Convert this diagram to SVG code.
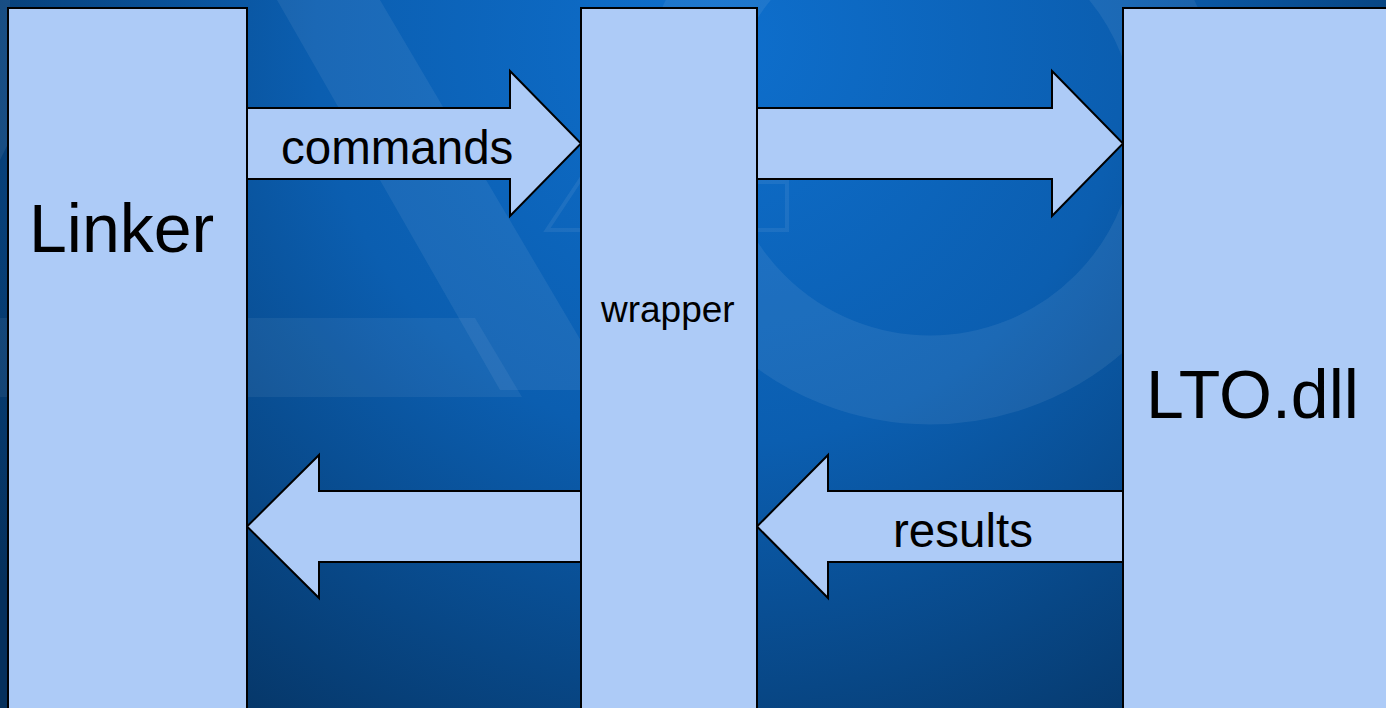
<svg xmlns="http://www.w3.org/2000/svg" width="1386" height="708" viewBox="0 0 1386 708">
  <style>
    .node { fill: #adcbf7; stroke: #000; stroke-width: 2; }
    .flow { fill: #adcbf7; stroke: #000; stroke-width: 2; stroke-linejoin: miter; }
    .label { font-family: "Liberation Sans", Arial, sans-serif; fill: #000; }
    .deco { fill: none; stroke: #ffffff; stroke-opacity: 0.07; }
  </style>
  <defs>
    <radialGradient id="bg" cx="720" cy="40" r="900" gradientUnits="userSpaceOnUse">
      <stop offset="0" stop-color="#0e6fcd"/>
      <stop offset="0.45" stop-color="#0b5eb0"/>
      <stop offset="1" stop-color="#05305c"/>
    </radialGradient>
  </defs>

  <!-- backdrop -->
  <rect x="0" y="0" width="1386" height="708" fill="url(#bg)"/>
  <g id="backdrop-marks">
    <!-- large faint ring -->
    <circle cx="930" cy="130" r="250" class="deco" stroke-width="89"/>
    <!-- diagonal stroke and crossbar -->
    <polygon points="277,0 380,0 610,390 500,390" fill="#ffffff" fill-opacity="0.065"/>
    <polygon points="0,318 475,318 522,397 0,397" fill="#ffffff" fill-opacity="0.06"/>
    <polygon points="0,0 10,0 10,140 0,160" fill="#ffffff" fill-opacity="0.07"/>
    <!-- small outline emblem -->
    <polyline points="600,150 547,230 787,230 787,182 740,182" class="deco" stroke-width="4"/>
  </g>

  <g id="connectors">
    <polygon id="commands-arrow" class="flow" points="247,108 510,108 510,71 581,143.5 510,216 510,179 247,179"/>
    <polygon id="forward-arrow" class="flow" points="757,108 1052,108 1052,71 1123,143.5 1052,216 1052,179 757,179"/>
    <polygon id="return-arrow" class="flow" points="581,491 319,491 319,455 247,526.5 319,598 319,562 581,562"/>
    <polygon id="results-arrow" class="flow" points="1123,491 828,491 828,455 757,526.5 828,598 828,562 1123,562"/>
    <text class="label" x="281" y="164" font-size="47.5">commands</text>
    <text class="label" x="893" y="547" font-size="47.5">results</text>
  </g>

  <g id="linker">
    <rect class="node" x="8" y="8" width="239" height="720"/>
    <text class="label" x="29" y="252" font-size="68">Linker</text>
  </g>
  <g id="wrapper">
    <rect class="node" x="581" y="8" width="176" height="720"/>
    <text class="label" x="601" y="322" font-size="37">wrapper</text>
  </g>
  <g id="lto-dll">
    <rect class="node" x="1123" y="8" width="280" height="720"/>
    <text class="label" x="1146" y="418" font-size="68">LTO.dll</text>
  </g>
</svg>
